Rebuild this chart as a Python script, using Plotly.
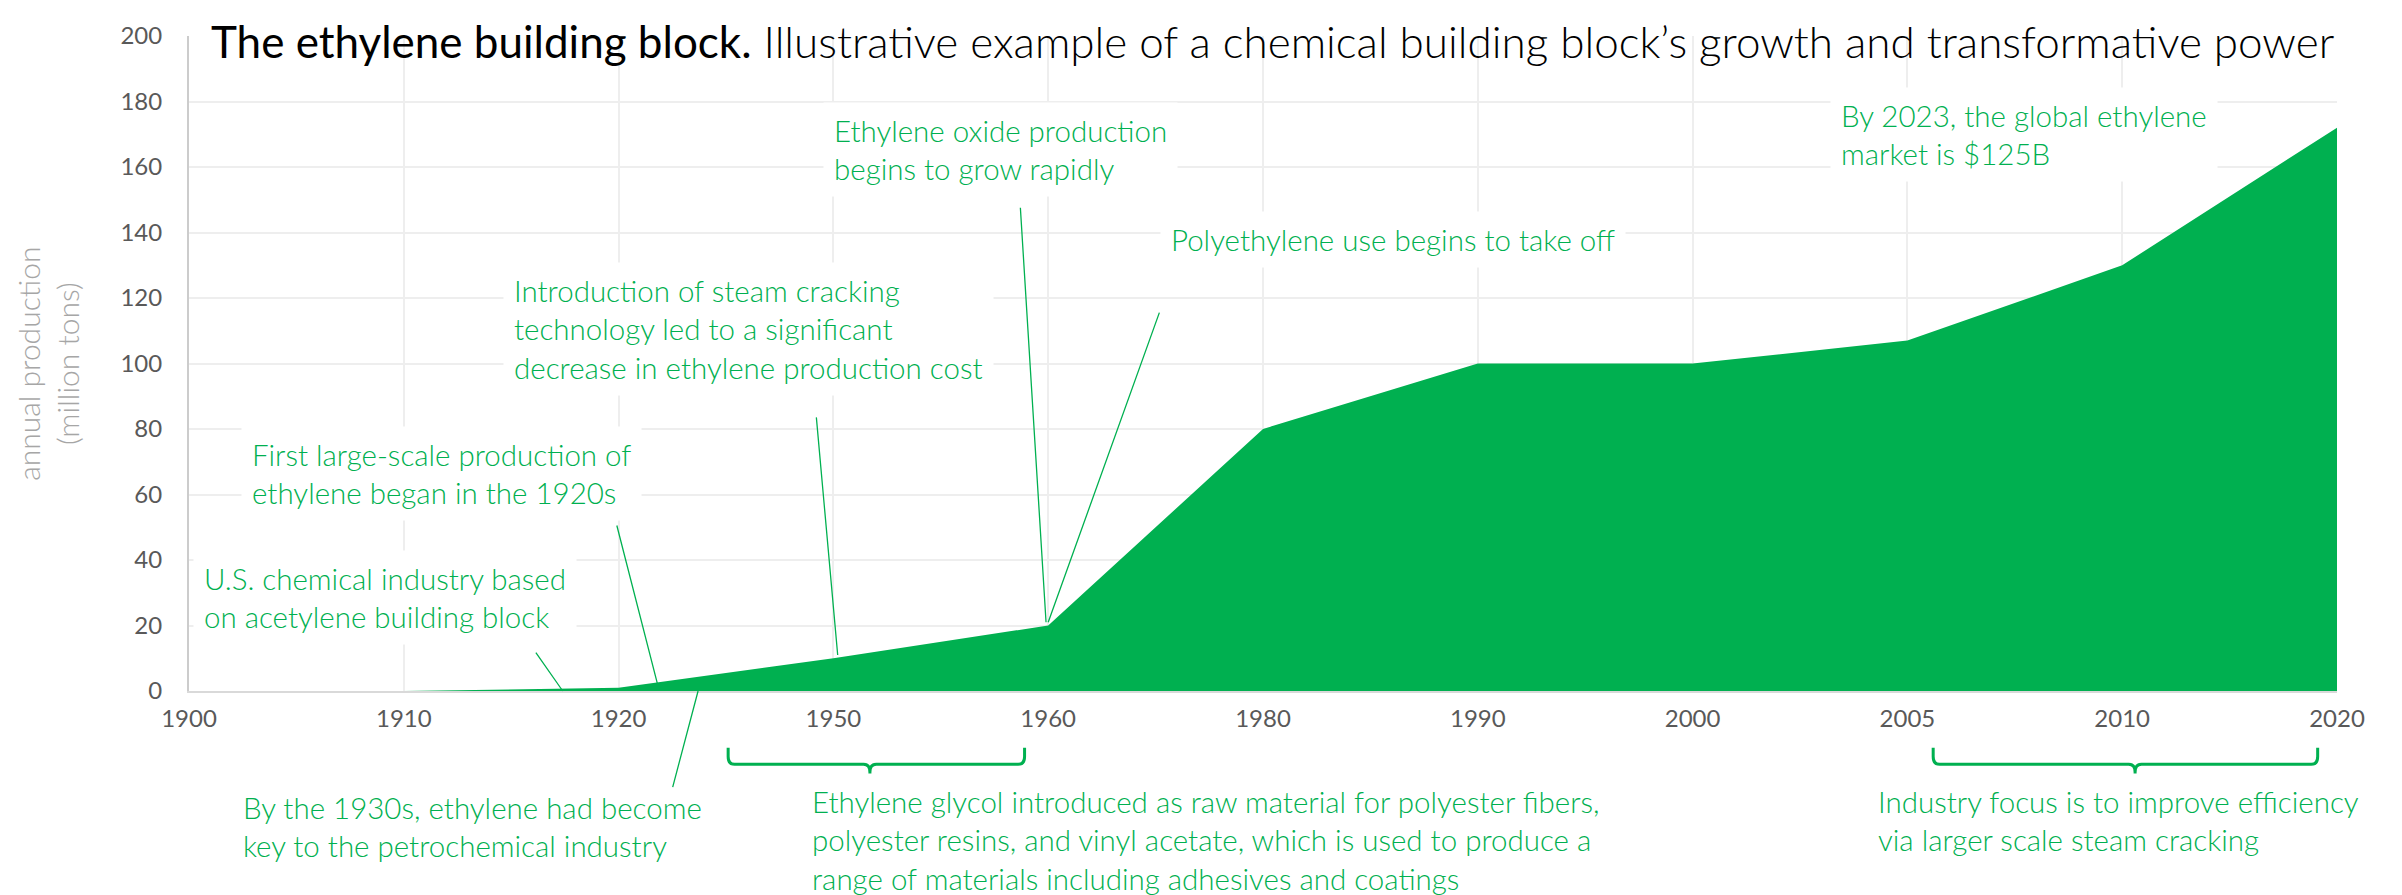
import plotly.graph_objects as go

# ---- data ----
years = ["1900", "1910", "1920", "1950", "1960", "1980", "1990", "2000", "2005", "2010", "2020"]
production = [0, 0, 1, 10, 20, 80, 100, 100, 107, 130, 172]
y_ticks = [0, 20, 40, 60, 80, 100, 120, 140, 160, 180, 200]

title_main = "The ethylene building block."
title_sub = " Illustrative example of a chemical building block\u2019s growth and transformative power"
y_title = "annual production<br>(million tons)"

notes = [
    "U.S. chemical industry based<br>on acetylene building block",
    "First large-scale production of<br>ethylene began in the 1920s",
    "Introduction of steam cracking<br>technology led to a significant<br>decrease in ethylene production cost",
    "Ethylene oxide production<br>begins to grow rapidly",
    "Polyethylene use begins to take off",
    "By 2023, the global ethylene<br>market is $125B",
    "By the 1930s, ethylene had become<br>key to the petrochemical industry",
    "Ethylene glycol introduced as raw material for polyester fibers,<br>polyester resins, and vinyl acetate, which is used to produce a<br>range of materials including adhesives and coatings",
    "Industry focus is to improve efficiency<br>via larger scale steam cracking",
]

# ---- layout helpers (positions, not data) ----
GREEN = "#00B050"
LIGHT = dict(family="Lato", weight=300)
idx = list(range(len(years)))

note_pos = [  # (x index, y value) of top-left corner of each text box
    (0.02, 43), (0.24, 81), (1.46, 131), (2.95, 180), (4.52, 146.5),
    (7.64, 184.5), (0.20, -27.0), (2.85, -25.0), (7.81, -25.0),
]
leader_lines = [  # (tip x, tip y, tail x, tail y)
    (1.74, 0, 1.61, 12.2),
    (2.18, 2.4, 1.99, 51),
    (3.02, 11, 2.92, 84),
    (3.99, 21, 3.87, 148),
    (4.0, 21, 4.52, 116),
    (2.37, 0, 2.25, -29.8),
]
braces = [(2.51, 3.17, 3.89), (8.12, 9.06, 9.91)]

fig = go.Figure()
fig.add_trace(go.Scatter(
    x=idx, y=production, mode="none", fill="tozeroy",
    fillcolor=GREEN, hoverinfo="skip", showlegend=False,
))

annotations = []
for text, (x, y) in zip(notes, note_pos):
    below = y < 0
    annotations.append(dict(
        x=x, y=(y / 200 if below else y), xref="x", yref=("paper" if below else "y"),
        xanchor="left", yanchor="top",
        text=text, showarrow=False, align="left", bgcolor="white",
        borderpad=10, font=dict(size=29.5, color=GREEN, **LIGHT),
    ))
for tx, ty, ax, ay in leader_lines:
    annotations.append(dict(
        x=tx, y=ty, xref="x", yref="y", ax=ax, ay=ay, axref="x", ayref="y",
        text="", showarrow=True, arrowhead=0, arrowwidth=1.3, arrowcolor=GREEN,
        standoff=0, startstandoff=0,
    ))
annotations.append(dict(
    x=0.10, y=1.0342, xref="x", yref="paper", xanchor="left", yanchor="top",
    text=f"<span style='font-weight:400'>{title_main}</span>{title_sub}",
    showarrow=False, borderpad=0, font=dict(size=44, color="#000000", **LIGHT),
))
annotations.append(dict(
    x=-0.066, y=0.5, xref="paper", yref="paper", xanchor="center", yanchor="middle",
    text=y_title, textangle=-90, showarrow=False,
    font=dict(size=30, color="#a6a6a6", **LIGHT),
))

shapes = [dict(type="rect", xref="x", yref="y", x0=0.145, x1=10.2, y0=187.7, y1=205,
               fillcolor="white", line=dict(width=0), layer="below")]
yt, ym, yb = -0.0866, -0.112, -0.138
for x0, xc, x1 in braces:
    d, r = 0.03, 0.012
    path = (f"M {x0},{yt} L {x0},{ym + r} Q {x0},{ym} {x0 + d},{ym} "
            f"L {xc - d},{ym} Q {xc},{ym} {xc},{ym - r} L {xc},{yb} "
            f"M {xc},{ym - r} Q {xc},{ym} {xc + d},{ym} "
            f"L {x1 - d},{ym} Q {x1},{ym} {x1},{ym + r} L {x1},{yt}")
    shapes.append(dict(type="path", xref="x", yref="paper", path=path,
                       line=dict(color=GREEN, width=3)))

fig.update_layout(
    width=2402, height=895,
    margin=dict(l=181, r=73, t=25, b=212),
    paper_bgcolor="white", plot_bgcolor="white",
    annotations=annotations, shapes=shapes,
    xaxis=dict(
        range=[0, 10], tickvals=idx, ticktext=years, showgrid=True,
        gridcolor="#eeeeee", gridwidth=1.5, showline=True, linecolor="#d9d9d9",
        linewidth=2, ticks="", zeroline=False, ticklabelstandoff=5,
        tickfont=dict(family="Lato", size=24, color="#595959"),
    ),
    yaxis=dict(
        range=[0, 200], tickvals=y_ticks, showgrid=True, gridcolor="#eeeeee",
        gridwidth=1.5, showline=True, linecolor="#cccccc", linewidth=2,
        ticks="", zeroline=False, ticklabelstandoff=20,
        tickfont=dict(family="Lato", size=24, color="#595959"),
    ),
)

fig.write_html("out.html")
